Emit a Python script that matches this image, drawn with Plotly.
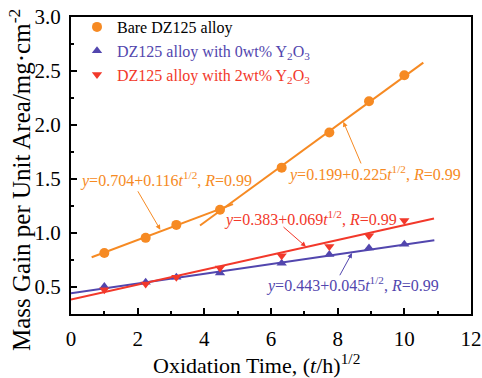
import plotly.graph_objects as go

# ---- data ----
sqrt_t = [1.0, 2.24, 3.16, 4.47, 6.32, 7.75, 8.94, 10.0]
bare = [0.815, 0.955, 1.075, 1.215, 1.605, 1.93, 2.22, 2.46]
y0wt = [0.505, 0.545, 0.59, 0.63, 0.72, 0.80, 0.86, 0.895]
y2wt = [0.475, 0.528, 0.59, 0.675, 0.79, 0.876, 0.975, 1.115]

names = ["Bare DZ125 alloy",
         "DZ125 alloy with 0wt% Y<sub>2</sub>O<sub>3</sub>",
         "DZ125 alloy with 2wt% Y<sub>2</sub>O<sub>3</sub>"]

# fitted lines: intercept, slope, x-extent
fit_bare1 = (0.704, 0.116, [0.62, 4.86])
fit_bare2 = (0.199, 0.225, [3.87, 10.57])
fit_0wt = (0.443, 0.045, [0.0, 10.9])
fit_2wt = (0.383, 0.069, [0.0, 10.89])

x_ticks = [0, 2, 4, 6, 8, 10, 12]
y_ticks = [0.5, 1.0, 1.5, 2.0, 2.5, 3.0]

ORANGE = "#F68A23"
BLUE = "#5246AE"
RED = "#F2382A"
FONT = "Liberation Serif"

fig = go.Figure()

def fit_line(fit, color):
    a, b, xs = fit
    fig.add_trace(go.Scatter(x=xs, y=[a + b * v for v in xs], mode="lines",
                             line=dict(color=color, width=2),
                             showlegend=False, hoverinfo="skip"))

fit_line(fit_bare1, ORANGE)
fit_line(fit_bare2, ORANGE)
fit_line(fit_0wt, BLUE)
fit_line(fit_2wt, RED)

fig.add_trace(go.Scatter(x=sqrt_t, y=bare, mode="markers",
                         marker=dict(symbol="circle", size=10, color=ORANGE),
                         name=f'<span style="color:black">{names[0]}</span>'))
fig.add_trace(go.Scatter(x=sqrt_t, y=y0wt, mode="markers",
                         marker=dict(symbol="triangle-up", size=9, color=BLUE),
                         name=f'<span style="color:{BLUE}">{names[1]}</span>'))
fig.add_trace(go.Scatter(x=sqrt_t, y=y2wt, mode="markers",
                         marker=dict(symbol="triangle-down", size=9, color=RED),
                         name=f'<span style="color:{RED}">{names[2]}</span>'))

def eq(a, b):
    return f"<i>y</i>={a:.3f}+{b:.3f}<i>t</i><sup>1/2</sup>, <i>R</i>=0.99"

# annotations: text position, arrow tail, arrow head
labels = [
    (eq(*fit_bare1[:2]), ORANGE, (2.84, 1.50), (1.98, 1.40), (2.68, 1.03)),
    (eq(*fit_bare2[:2]), ORANGE, (9.10, 1.55), (8.72, 1.63), (8.17, 2.03)),
    (eq(*fit_2wt[:2]), RED, (7.17, 1.13), (6.33, 1.067), (7.05, 0.873)),
    (eq(*fit_0wt[:2]), BLUE, (8.43, 0.52), (8.04, 0.595), (8.43, 0.815)),
]
for text, col, tpos, tail, head in labels:
    fig.add_annotation(x=tpos[0], y=tpos[1], text=text, showarrow=False,
                       font=dict(family=FONT, size=16, color=col))
    fig.add_annotation(x=head[0], y=head[1], ax=tail[0], ay=tail[1],
                       axref="x", ayref="y", text="", showarrow=True,
                       arrowhead=2, arrowsize=1, arrowwidth=1, arrowcolor=col)

# axis titles (placed as text to match the reference position)
fig.add_annotation(xref="paper", yref="paper", x=-0.1275, y=0.451,
                   text="Mass Gain per Unit Area/mg·cm<sup>-2</sup>",
                   textangle=-90, showarrow=False, xanchor="center", yanchor="middle",
                   font=dict(family=FONT, size=25, color="black"))
fig.add_annotation(xref="paper", yref="paper", x=0.4625, y=-0.1684,
                   text="Oxidation Time, (<i>t</i>/h)<sup>1/2</sup>",
                   showarrow=False, xanchor="center", yanchor="middle",
                   font=dict(family=FONT, size=22, color="black"))

axis_common = dict(showline=True, linecolor="black", linewidth=2, mirror=True,
                   ticks="inside", ticklen=6, tickwidth=1.5, tickcolor="black",
                   showgrid=False, zeroline=False,
                   tickfont=dict(family=FONT, size=21, color="black"))

fig.update_xaxes(range=[0, 12], tickvals=x_ticks,
                 minor=dict(ticks="inside", ticklen=3, tickwidth=1.5, dtick=1, tick0=0, tickcolor="black"),
                 ticklabelstandoff=5,
                 **axis_common)
fig.update_yaxes(range=[0.25, 3.0], tickvals=y_ticks, tickformat=".1f",
                 minor=dict(ticks="inside", ticklen=3, tickwidth=1.5, dtick=0.25, tick0=0, tickcolor="black"),
                 ticklabelstandoff=4,
                 **axis_common)

fig.update_layout(width=482, height=378,
                  margin=dict(l=71, r=11, t=17, b=64, autoexpand=False),
                  paper_bgcolor="white", plot_bgcolor="white",
                  font=dict(family=FONT),
                  legend=dict(x=0.015, y=1.0236, xanchor="left", yanchor="top",
                              bgcolor="rgba(0,0,0,0)", itemwidth=30,
                              font=dict(family=FONT, size=16, color="black"),
                              tracegroupgap=0))

fig.write_html("out.html")
